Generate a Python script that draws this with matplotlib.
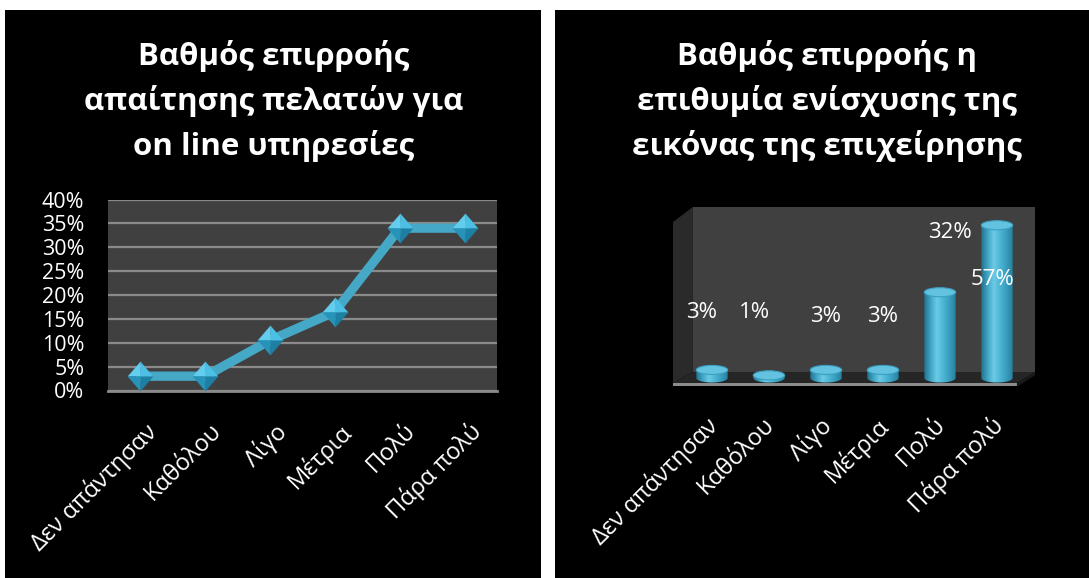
import matplotlib.pyplot as plt
import numpy as np
from matplotlib.patches import Ellipse, Polygon, PathPatch
from matplotlib.path import Path
from matplotlib.colors import LinearSegmentedColormap
from matplotlib.transforms import blended_transform_factory

plt.rcParams['font.family'] = ['Open Sans', 'DejaVu Sans']

categories = ['Δεν απάντησαν', 'Καθόλου', 'Λίγο', 'Μέτρια', 'Πολύ', 'Πάρα πολύ']

# left chart: demand from customers for online services
demand = [3.0, 3.0, 10.5, 16.5, 34.0, 34.0]
y_ticks = [0, 5, 10, 15, 20, 25, 30, 35, 40]

# right chart: wish to improve the company image
image = [3, 1, 3, 3, 32, 57]
image_labels = ['3%', '1%', '3%', '3%', '32%', '57%']
# where each value label sits (category position, height)
label_pos = [(-0.18, 24.6), (0.75, 24.3), (2.0, 23.1), (3.0, 23.1), (4.17, 54.1), (4.93, 36.6)]

title_left = 'Βαθμός επιρροής\nαπαίτησης πελατών για\non line υπηρεσίες'
title_right = 'Βαθμός επιρροής η\nεπιθυμία ενίσχυσης της\nεικόνας της επιχείρησης'

W, H = 1089, 578
fig = plt.figure(figsize=(W / 100, H / 100), dpi=100, facecolor='white')


def box(x0, x1, top, bottom):
    # pixel box -> figure fraction rect
    return [x0 / W, 1 - bottom / H, (x1 - x0) / W, (bottom - top) / H]


# black slide panels
for x0, x1 in [(5, 541), (555, 1089)]:
    bg = fig.add_axes(box(x0, x1, 10, 578), zorder=0)
    bg.set_facecolor('black')
    bg.set_xticks([])
    bg.set_yticks([])
    for s in bg.spines.values():
        s.set_visible(False)

fig.text(274 / W, 1 - 101 / H, title_left, color='white', fontsize=22.5, fontweight='bold',
         ha='center', va='center', linespacing=1.5)
fig.text(827 / W, 1 - 101 / H, title_right, color='white', fontsize=22.5, fontweight='bold',
         ha='center', va='center', linespacing=1.5)

# ---- left: line chart ----
ax = fig.add_axes(box(108, 497, 199.5, 390.5), zorder=2)
ax.set_facecolor('#404040')
x = np.arange(len(categories))
ax.set_xlim(-0.5, len(categories) - 0.5)
ax.set_ylim(0, 40)
ax.set_yticks(y_ticks)
ax.set_yticklabels([f'{t}%' for t in y_ticks])
ax.yaxis.grid(True, color='#8a8a8a', lw=1.6)
ax.set_axisbelow(True)
ax.tick_params(axis='y', colors='white', labelsize=15.5, length=0, pad=17)
ax.set_xticks([])
for s in ax.spines.values():
    s.set_visible(False)
ax.axhline(0, color='#8a8a8a', lw=2, clip_on=False)

ax.plot(x, demand, color='#45a8c7', lw=6.7, solid_joinstyle='miter', zorder=3)
# diamond markers, four shaded facets each
facets = [
    ([(-0.86, 0), (0, 1), (0, 0)], '#63cdee'),
    ([(0, 1), (0.86, 0), (0, 0)], '#4bbfe4'),
    ([(0.86, 0), (0, -1), (0, 0)], '#1c7fa3'),
    ([(0, -1), (-0.86, 0), (0, 0)], '#2893b9'),
]
for verts, col in facets:
    ax.plot(x, demand, ls='none', marker=verts, ms=21, mfc=col, mec=col, mew=0.3,
            zorder=4, clip_on=False)

trans = blended_transform_factory(ax.transData, ax.transAxes)
for i, name in enumerate(categories):
    ax.text(i + 0.06, -0.15, name, transform=trans, rotation=45, rotation_mode='anchor',
            ha='right', va='top', color='white', fontsize=17)

# ---- right: 3D-style cylinder chart ----
ax2 = fig.add_axes(box(673, 1035, 207, 386), zorder=2)
ax2.set_axis_off()

ta = ax2.transAxes
ax2.add_patch(Polygon([(0.055, 0.078), (1, 0.078), (1, 1), (0.055, 1)], closed=True,
                      fc='#404040', ec='none', transform=ta, zorder=0))
ax2.add_patch(Polygon([(0, 0.017), (0.055, 0.078), (0.055, 1), (0, 0.916)], closed=True,
                      fc='#2a2a2a', ec='none', transform=ta, zorder=0))
ax2.add_patch(Polygon([(0, 0.017), (0.95, 0.017), (1, 0.078), (0.055, 0.078)], closed=True,
                      fc='#262626', ec='none', transform=ta, zorder=0))
ax2.add_patch(Polygon([(0, -0.004), (0.95, -0.004), (0.95, 0.017), (0, 0.017)], closed=True,
                      fc='#8c8c8c', ec='none', transform=ta, zorder=0))
ax2.add_patch(Polygon([(0.95, -0.004), (1, 0.06), (1, 0.078), (0.95, 0.017)], closed=True,
                      fc='#1a1a1a', ec='none', transform=ta, zorder=0))

cyl_cmap = LinearSegmentedColormap.from_list(
    'cyl', ['#23718d', '#3fa4c4', '#6ccbe6', '#4db5d5', '#3a9dbd', '#26809e'])
grad = np.linspace(0, 1, 64).reshape(1, -1)
bw, eh = 0.55, 3.4
t = np.linspace(np.pi, 2 * np.pi, 40)
for i, v in enumerate(image):
    left, right = i - bw / 2, i + bw / 2
    arc = np.column_stack([i + bw / 2 * np.cos(t), eh / 2 * np.sin(t)])
    verts = np.vstack([[(left, v)], [(left, 0)], arc, [(right, 0)], [(right, v)], [(left, v)]])
    outline = PathPatch(Path(verts, closed=True), fc='none', ec='none')
    ax2.add_patch(outline)
    im = ax2.imshow(grad, cmap=cyl_cmap, aspect='auto', extent=[left, right, -eh / 2, v],
                    zorder=2, interpolation='bilinear')
    im.set_clip_path(outline)
    ax2.add_patch(Ellipse((i, v), bw, eh, fc='#62c2df', ec='#3b9fc0', lw=0.8, zorder=3))

for (lx, ly), txt in zip(label_pos, image_labels):
    ax2.text(lx, ly, txt, color='white', fontsize=16, ha='center', va='center', zorder=5)

ax2.set_xlim(-0.684, 5.667)
ax2.set_ylim(-2.99, 63.8)

trans2 = blended_transform_factory(ax2.transData, ax2.transAxes)
for i, name in enumerate(categories):
    ax2.text(i - 0.12, -0.15, name, transform=trans2, rotation=45, rotation_mode='anchor',
             ha='right', va='top', color='white', fontsize=17)

fig.savefig('out.png', dpi=100, facecolor='white')
